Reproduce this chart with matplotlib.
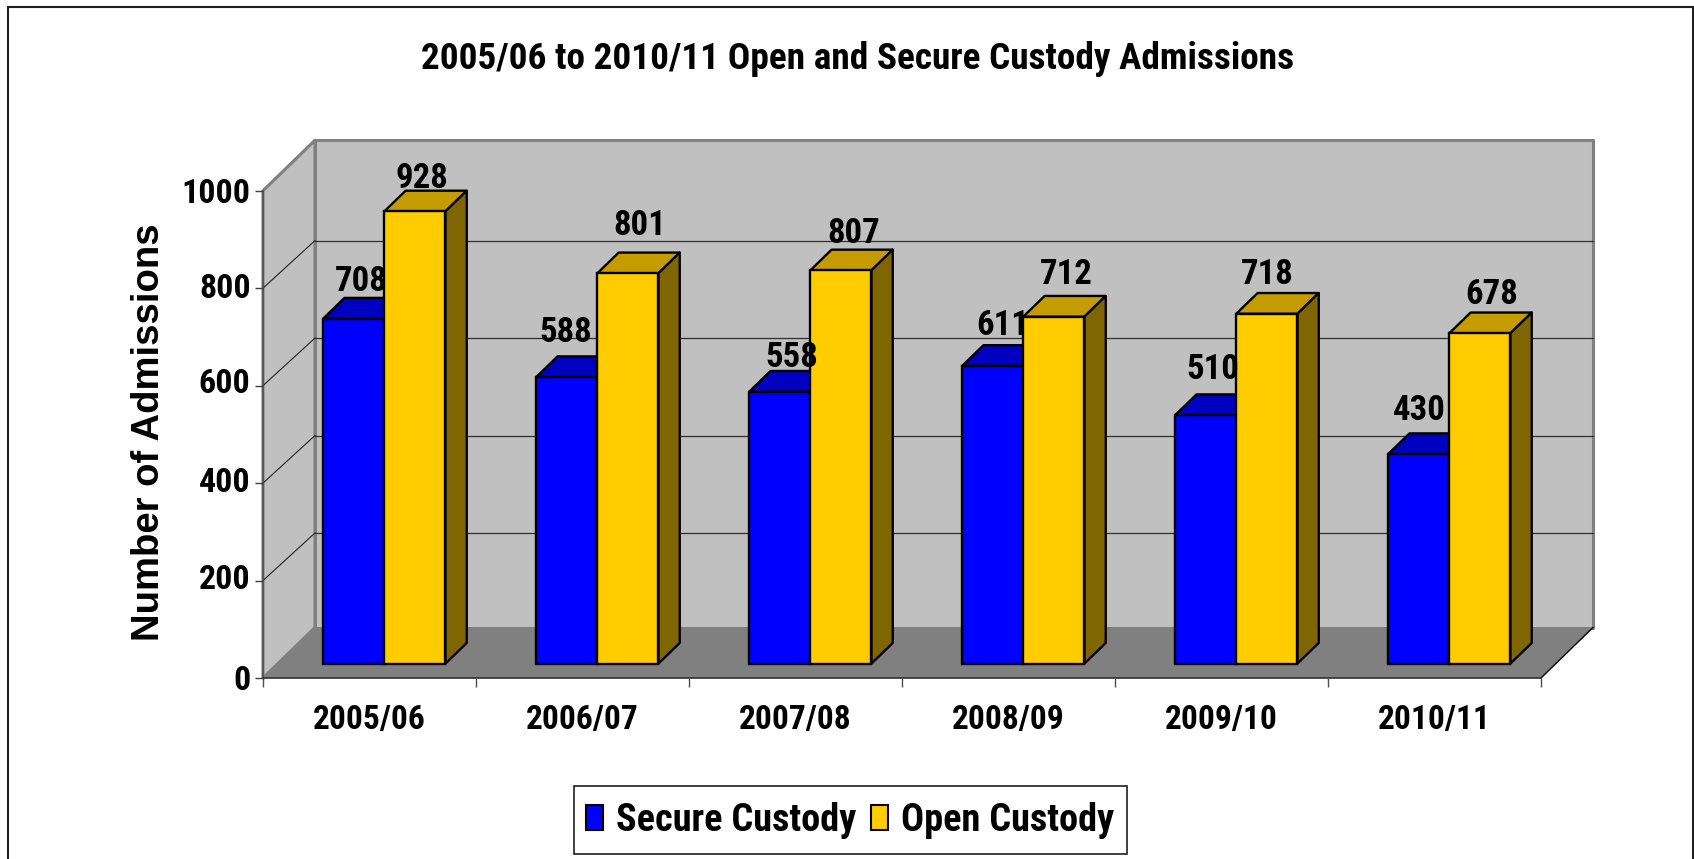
import matplotlib
matplotlib.use("Agg")
import matplotlib.pyplot as plt
from matplotlib.patches import Rectangle, Patch
from matplotlib.transforms import ScaledTranslation
from matplotlib import font_manager

seasons = ["2005/06", "2006/07", "2007/08", "2008/09", "2009/10", "2010/11"]
secure = [708, 588, 558, 611, 510, 430]
open_custody = [928, 801, 807, 712, 718, 678]
yticks = [0, 200, 400, 600, 800, 1000]

# nudges of the labels, in pixels, they sit by hand in the original
secure_nudge = [(-3, 27), (-12, 34), (1, 24), (-1, 30), (-4, 35), (-10, 33)]
open_nudge = [(-4, 23), (1, 37), (2, 27), (2, 32), (-10, 29), (1, 28)]
ytick_nudge = [0, 4, 4, 5, 3, 0]

W, H = 1694, 859
names = {f.name for f in font_manager.fontManager.ttflist}
FONT = ["Liberation Sans"]
for cand in ("Liberation Sans Narrow", "Roboto Condensed", "Open Sans Condensed"):
    if cand in names:
        FONT = [cand, "Liberation Sans"]
        break

# depth of the fake 3d box, in data units per unit of depth
DX = 0.244
DY = 103.6
BAR_D0 = 0.285
BAR_D1 = 0.695
BAR_W = 0.287
GRID_DROP = 6


def proj(x, v, d):
    return x + d * DX, v + d * DY


def face(ax, pts, color, edge=None, lw=0, z=1):
    xs = [p[0] for p in pts]
    ys = [p[1] for p in pts]
    ax.fill(xs, ys, facecolor=color, edgecolor=edge if edge else "none",
            linewidth=lw, zorder=z, clip_on=False, joinstyle="round")


def bar_3d(ax, left, val, front, top, side, z):
    right = left + BAR_W
    face(ax, [proj(left, val, BAR_D0), proj(right, val, BAR_D0),
              proj(right, val, BAR_D1), proj(left, val, BAR_D1)],
         top, "black", 1.7, z)
    face(ax, [proj(right, 0, BAR_D0), proj(right, 0, BAR_D1),
              proj(right, val, BAR_D1), proj(right, val, BAR_D0)],
         side, "black", 1.7, z)
    x0, b0 = proj(left, 0, BAR_D0)
    ax.bar(x0, val, BAR_W, bottom=b0, align="edge", color=front,
           edgecolor="black", linewidth=1.7, zorder=z + 0.1, clip_on=False)


fig = plt.figure(figsize=(W / 100, H / 100), dpi=100, facecolor="white")
ax = fig.add_axes([263 / W, 1 - 678 / H, (1541 - 263) / W, (678 - 190.7) / H])
ax.set_xlim(0, 6)
ax.set_ylim(0, 1000)
ax.patch.set_visible(False)

# walls and floor
n = len(seasons)
face(ax, [proj(0, 0, 1), proj(n, 0, 1), proj(n, 1000, 1), proj(0, 1000, 1)],
     "#C0C0C0", "#808080", 2.2, 0.5)
face(ax, [proj(0, 0, 0), proj(0, 0, 1), proj(0, 1000, 1), proj(0, 1000, 0)],
     "#C0C0C0", "#808080", 2.2, 0.6)
face(ax, [proj(0, 0, 0), proj(n, 0, 0), proj(n, 0, 1), proj(0, 0, 1)],
     "#808080", None, 0, 0.7)

for v in yticks[1:-1]:
    bx0, by0 = proj(0, v - GRID_DROP, 1)
    bx1, by1 = proj(n, v - GRID_DROP, 1)
    ax.plot([bx0, bx1], [by0, by1], color="#303030", lw=0.9, zorder=0.8, clip_on=False)
    ax.plot([0, bx0], [v, by0], color="#202020", lw=0.8, zorder=0.8, clip_on=False)
ax.plot(*zip(proj(n, 0, 0), proj(n, 0, 1)), color="black", lw=1.0, zorder=0.9, clip_on=False)

# bars, left to right so the nearer faces cover the older ones
for i in range(n):
    bar_3d(ax, i + 0.213, secure[i], "#0000FF", "#0000C0", "#000080", 2 + i)
    bar_3d(ax, i + 0.50, open_custody[i], "#FFCC00", "#C49C00", "#806600", 2.3 + i)

for i in range(n):
    for left, val, nudge in ((i + 0.213, secure[i], secure_nudge[i]),
                             (i + 0.50, open_custody[i], open_nudge[i])):
        mx, my = proj(left + BAR_W / 2, val, (BAR_D0 + BAR_D1) / 2)
        ax.annotate(str(val), (mx, my), xytext=nudge, textcoords="offset pixels",
                    ha="center", va="center", fontsize=25, fontweight="bold",
                    family=FONT, zorder=20, annotation_clip=False)

# axes
for s in ("top", "right"):
    ax.spines[s].set_visible(False)
ax.spines["left"].set_color("#505050")
ax.spines["left"].set_linewidth(1.2)
ax.spines["bottom"].set_color("#303030")
ax.spines["bottom"].set_linewidth(1.2)
ax.spines["left"].set_zorder(1)
ax.spines["bottom"].set_zorder(1)

ax.set_yticks(yticks)
ax.set_yticklabels([str(v) for v in yticks], fontsize=24.5, fontweight="bold", family=FONT)
ax.tick_params(axis="y", length=5.5, width=1.0, color="#404040", pad=3.5)
for lab, up in zip(ax.get_yticklabels(), ytick_nudge):
    lab.set_transform(lab.get_transform() + ScaledTranslation(0, up / 100, fig.dpi_scale_trans))
ax.set_xticks(range(n + 1))
ax.set_xticklabels([])
ax.tick_params(axis="x", which="major", length=6.5, width=1.0, color="#505050")
ax.set_xticks([i + 0.5 for i in range(n)], minor=True)
ax.set_xticklabels(seasons, minor=True, fontsize=24, fontweight="bold", family=FONT)
ax.tick_params(axis="x", which="minor", length=0, pad=19)

fig.text(149 / W, 1 - 432 / H, "Number of Admissions", rotation=90, ha="center", va="center",
         fontsize=27.5, fontweight="bold", family="Liberation Sans")
fig.text(858 / W, 1 - 59 / H, "2005/06 to 2010/11 Open and Secure Custody Admissions",
         ha="center", va="center", fontsize=26.8, fontweight="bold", family=FONT)

fig.add_artist(Rectangle((574 / W, 1 - 853.5 / H), 553 / W, 68 / H, transform=fig.transFigure,
                         facecolor="white", edgecolor="#202020", linewidth=1.2))
handles = [Patch(facecolor="#0000FF", edgecolor="black", linewidth=1.5),
           Patch(facecolor="#FFCC00", edgecolor="black", linewidth=1.5)]
leg = fig.legend(handles, ["Secure Custody", "Open Custody"], ncol=2,
                 loc="center", bbox_to_anchor=(850 / W, 1 - 820.5 / H), frameon=False,
                 prop={"family": FONT, "weight": "bold", "size": 27.5},
                 handlelength=0.45, handleheight=0.65, handletextpad=0.32,
                 columnspacing=0.4, borderpad=0, borderaxespad=0)
leg.set_zorder(5)

# outer chart frame, bottom edge runs off the picture
fig.add_artist(Rectangle((8 / W, -0.02), (1693 - 8) / W, 1.02 - 7 / H, transform=fig.transFigure,
                         fill=False, edgecolor="#202020", linewidth=1.5))

fig.savefig("out.png", dpi=100)
